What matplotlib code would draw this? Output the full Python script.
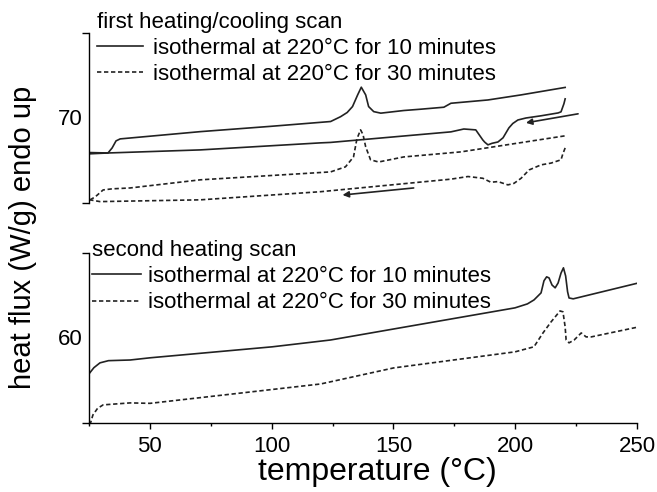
import numpy as np
import matplotlib
matplotlib.use("Agg")
import matplotlib.pyplot as plt

plt.rcParams['font.family'] = ['Liberation Sans', 'DejaVu Sans']

# first heating / cooling scan (upper panel)
heat1_10_T = [25, 32.8, 34.5, 36.1, 37.8, 70.7, 99.5, 124.2, 128.3, 131.0, 133.2, 135.3, 136.8,
              138.6, 139.8, 141.9, 144.8, 154.2, 161.2, 170.7, 173.6, 188.8, 202.4, 220.5]
heat1_10_y = [68.38, 68.36, 68.59, 68.91, 69.0, 69.33, 69.57, 69.79, 70.01, 70.2, 70.47, 71.0, 71.35,
              71.0, 70.47, 70.24, 70.17, 70.29, 70.35, 70.44, 70.62, 70.77, 71.0, 71.34]
cool1_10_T = [220.5, 220.0, 218.8, 217.6, 210.6, 204.4, 201.1, 199.0, 197.4, 195.0, 192.9, 190.5,
              188.8, 187.5, 186.7, 183.8, 178.9, 173.6, 124.2, 120.1, 70.7, 32.8, 25]
cool1_10_y = [70.82, 70.6, 70.23, 70.18, 70.05, 69.95, 69.86, 69.7, 69.5, 69.05, 68.86, 68.8,
              68.73, 68.85, 68.95, 69.41, 69.45, 69.32, 68.84, 68.82, 68.5, 68.36, 68.32]
heat1_30_T = [25.4, 27.5, 30.8, 34.5, 41.9, 70.7, 124.2, 130.3, 133.6, 135.0, 136.5, 137.5,
              138.6, 140.6, 143.9, 154.2, 177.7, 220.5]
heat1_30_y = [66.23, 66.36, 66.68, 66.73, 66.77, 67.14, 67.5, 67.73, 68.18, 69.0, 69.41, 69.2,
              68.64, 68.05, 67.95, 68.18, 68.41, 69.14]
cool1_30_T = [220.5, 219.5, 218.8, 214.7, 210.6, 205.7, 202.4, 199.5, 197.0, 192.9, 190.0,
              186.7, 180.6, 173.6, 120.1, 70.7, 29.5, 25.4]
cool1_30_y = [68.59, 68.3, 68.05, 67.9, 67.82, 67.59, 67.21, 66.98, 66.91, 67.06, 67.03,
              67.21, 67.29, 67.17, 66.6, 66.23, 66.15, 66.23]

# second heating scan (lower panel)
heat2_10_T = [25.0, 27.0, 29.5, 33.0, 41.9, 50.1, 100.3, 124.2, 150.1, 199.9, 205.0, 207.7,
              210.6, 211.8, 212.9, 213.9, 215.1, 216.4, 217.6, 218.8, 219.8, 220.7, 221.5,
              222.1, 223.8, 250.5]
heat2_10_y = [58.32, 58.6, 58.82, 58.92, 58.95, 59.05, 59.55, 59.86, 60.36, 61.32, 61.5, 61.68,
              62.0, 62.55, 62.73, 62.68, 62.36, 62.23, 62.45, 62.9, 63.14, 62.77, 62.05,
              61.77, 61.73, 62.45]
heat2_30_T = [25.4, 26.6, 28.5, 30.8, 41.9, 50.1, 120.1, 150.1, 199.9, 207.7, 211.4, 214.7,
              218.4, 219.6, 220.5, 220.9, 222.1, 224.2, 227.1, 229.1, 231.2, 250.5]
heat2_30_y = [56.0, 56.45, 56.75, 56.91, 57.0, 56.98, 57.86, 58.59, 59.32, 59.55, 60.18, 60.68,
              61.18, 61.14, 60.45, 59.86, 59.73, 59.86, 60.18, 60.0, 60.0, 60.45]

# scan direction arrows (tail -> head)
arrow_solid = [(225.8, 70.14), (204.4, 69.73)]
arrow_dash = [(158.3, 66.77), (129.1, 66.45)]

labels = ['isothermal at 220°C for 10 minutes', 'isothermal at 220°C for 30 minutes']
dash = (0, (2.6, 1.6))

fig = plt.figure(figsize=(6.57, 4.92), dpi=100)
W, H = 657, 492
ax1 = fig.add_axes([89 / W, 1 - 202.7 / H, 548 / W, 169.4 / H])
ax2 = fig.add_axes([89 / W, 1 - 422.7 / H, 548 / W, 169.4 / H])

ax1.plot(heat1_10_T, heat1_10_y, color='#222222', lw=1.2, label=labels[0])
ax1.plot(cool1_10_T, cool1_10_y, color='#222222', lw=1.2)
ax1.plot(heat1_30_T, heat1_30_y, color='#222222', lw=1.2, ls=dash, label=labels[1])
ax1.plot(cool1_30_T, cool1_30_y, color='#222222', lw=1.2, ls=dash)
for a in (arrow_solid, arrow_dash):
    ax1.annotate('', xy=a[1], xytext=a[0],
                 arrowprops=dict(arrowstyle='-|>', color='#222222', lw=1.2,
                                 mutation_scale=9, shrinkA=0, shrinkB=0))

ax2.plot(heat2_10_T, heat2_10_y, color='#222222', lw=1.2, label=labels[0])
ax2.plot(heat2_30_T, heat2_30_y, color='#222222', lw=1.2, ls=dash, label=labels[1])

ax1.set_ylim(66.1, 73.8)
ax2.set_ylim(56.1, 63.8)
for ax in (ax1, ax2):
    ax.set_xlim(25, 250)
    ax.spines['top'].set_visible(False)
    ax.spines['right'].set_visible(False)
    ax.patch.set_visible(False)
ax1.spines['bottom'].set_visible(False)

ax1.set_yticks([70])
ax1.set_yticks(list(ax1.get_ylim()), minor=True)
ax2.set_yticks([60])
ax2.set_yticks(list(ax2.get_ylim()), minor=True)
ax1.set_xticks([])
ax1.tick_params(axis='x', which='both', bottom=False, labelbottom=False)
ax2.set_xticks([50, 100, 150, 200, 250])
ax2.set_xticks([25, 75, 125, 175, 225], minor=True)
for ax in (ax1, ax2):
    ax.tick_params(axis='y', which='major', length=0, pad=4.5, labelsize=16)
    ax.tick_params(axis='y', which='minor', length=4.7, width=1, direction='out')
    ax.spines['left'].set_linewidth(1)
ax2.spines['bottom'].set_linewidth(1)
ax2.tick_params(axis='x', which='major', length=4.3, width=1, direction='out', pad=5, labelsize=16)
ax2.tick_params(axis='x', which='minor', length=2.2, width=1, direction='out')

ax2.set_xlabel('temperature (°C)', fontsize=23)
ax2.xaxis.set_label_coords((377 - 89) / 548, -0.2)
fig.text(23 / W, 1 - 237 / H, 'heat flux (W/g) endo up', rotation=90, fontsize=21,
         ha='center', va='center')

leg1 = ax1.legend(title='first heating/cooling scan', loc='upper left',
                  bbox_to_anchor=((97 - 89) / 548, 1.128), frameon=False, fontsize=16,
                  title_fontsize=16, alignment='left', borderpad=0, borderaxespad=0,
                  handlelength=2.05, handletextpad=0.45, labelspacing=0.23)
leg2 = ax2.legend(title='second heating scan', loc='upper left',
                  bbox_to_anchor=((92 - 89) / 548, 1.078), frameon=False, fontsize=16,
                  title_fontsize=16, alignment='left', borderpad=0, borderaxespad=0,
                  handlelength=2.2, handletextpad=0.3, labelspacing=0.23)

fig.savefig('out.png', dpi=100)
